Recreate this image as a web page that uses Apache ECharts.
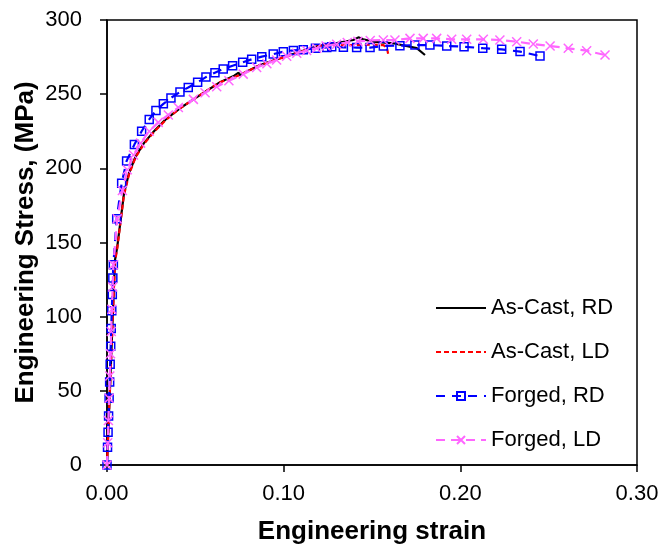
<!DOCTYPE html>
<html>
<head>
<meta charset="utf-8">
<script src="https://cdn.jsdelivr.net/npm/echarts@6/dist/echarts.min.js"></script>
<style>html,body{margin:0;padding:0;background:#fff}#c{width:665px;height:547px}</style>
</head>
<body>
<div id="c"></div>
<script>
// ---- data ----
var seriesNames = ['As-Cast, RD', 'As-Cast, LD', 'Forged, RD', 'Forged, LD'];
var xTicks = [0, 0.1, 0.2, 0.3];
var yTicks = [0, 50, 100, 150, 200, 250, 300];

var castRD_strain = [0, 0.0045, 0.0058, 0.0077, 0.0096, 0.0125, 0.0162, 0.0209, 0.0266, 0.0332, 0.0413, 0.0526, 0.064, 0.072, 0.0745, 0.075, 0.0866, 0.0979, 0.1092, 0.1206, 0.13, 0.1394, 0.1423, 0.145, 0.1507, 0.162, 0.1753, 0.18];
var castRD_stress = [0, 138, 147, 165, 183, 197, 208, 217, 225, 233, 240.5, 249.4, 258, 262.5, 264.5, 262.8, 269.7, 274.2, 278.6, 283, 284.5, 286.5, 288.3, 287, 285.4, 284.3, 281, 276.4];

var castLD_strain = [0, 0.0045, 0.0058, 0.0077, 0.0096, 0.0125, 0.0162, 0.0209, 0.0266, 0.0332, 0.0413, 0.0526, 0.064, 0.0743, 0.0866, 0.0979, 0.1092, 0.1206, 0.13, 0.14, 0.15, 0.1565, 0.1585, 0.1594];
var castLD_stress = [0, 137, 146, 164, 182, 196, 207.5, 216.5, 224.5, 232.5, 240.5, 249.4, 258, 262.5, 269.5, 274, 278.4, 282.5, 283, 283, 283.5, 283, 281, 275.5];

var forgRD_strain = [0, 0.0003, 0.0006, 0.0009, 0.0012, 0.0015, 0.0018, 0.0021, 0.0024, 0.0027, 0.003, 0.0033, 0.0036, 0.0055, 0.0083, 0.0111, 0.0155, 0.0196, 0.0239, 0.0277, 0.0319, 0.0362, 0.0413, 0.046, 0.0513, 0.056, 0.0611, 0.0658, 0.0711, 0.0768, 0.0819, 0.0876, 0.0941, 0.0998, 0.1055, 0.1111, 0.118, 0.1244, 0.1272, 0.1338, 0.1413, 0.1489, 0.1564, 0.1658, 0.1743, 0.1828, 0.1923, 0.2021, 0.2127, 0.2234, 0.2338, 0.2451];
var forgRD_stress = [0, 12, 22, 33, 45, 56, 68, 80, 92, 104, 115, 126, 135, 166, 190, 205, 216, 225, 233, 239, 243.5, 247.5, 251.5, 254.5, 258, 261.5, 264.5, 267, 269.2, 271.5, 273.5, 275.3, 277, 278.6, 279.5, 280, 281, 281.5, 282, 281.6, 281.4, 281.4, 282.5, 282.7, 283.1, 283.1, 282.5, 282, 281, 280.2, 278.7, 275.7];

var forgLD_strain = [0, 0.0004, 0.0008, 0.0012, 0.0016, 0.002, 0.0024, 0.0028, 0.0032, 0.0036, 0.0058, 0.0087, 0.0115, 0.015, 0.019, 0.0239, 0.029, 0.0347, 0.0404, 0.0489, 0.0555, 0.0621, 0.069, 0.0771, 0.0847, 0.0905, 0.096, 0.1017, 0.1074, 0.113, 0.1187, 0.124, 0.13, 0.136, 0.142, 0.149, 0.1564, 0.163, 0.1715, 0.179, 0.1866, 0.1951, 0.2036, 0.213, 0.2224, 0.2319, 0.2413, 0.2508, 0.2611, 0.2715, 0.2819];
var forgLD_stress = [0, 15, 30, 45, 60, 75, 90, 105, 120, 135, 166, 185, 199, 209, 217, 225, 231, 236, 241, 246.5, 251, 255, 259, 263.5, 268, 270.5, 273, 275.5, 277.6, 279.5, 281, 282.5, 283.7, 284.8, 285.6, 286.2, 286.5, 286.5, 287.6, 287.6, 287.6, 287, 287, 287, 286.5, 285.4, 283.8, 282.5, 280.9, 279.3, 276.4];

function pairs(xs, ys) { return xs.map(function (x, i) { return [x, ys[i]]; }); }

var FONT = '"Liberation Sans", Arial, sans-serif';
var chart = echarts.init(document.getElementById('c'), null, { renderer: 'canvas' });
chart.setOption({
  animation: false,
  backgroundColor: '#fff',
  grid: { left: 107, top: 20, right: 28, bottom: 82, containLabel: false, outerBoundsMode: 'none', show: true, borderColor: '#000', borderWidth: 1.5, backgroundColor: 'transparent' },
  legend: {
    orient: 'vertical', left: 435, top: 297, padding: 0,
    itemWidth: 50, itemHeight: 10, itemGap: 22,
    data: [
      { name: seriesNames[0], itemStyle: { opacity: 0 } },
      { name: seriesNames[1], itemStyle: { opacity: 0 } },
      { name: seriesNames[2] },
      { name: seriesNames[3] }
    ],
    textStyle: { fontFamily: FONT, fontSize: 22, color: '#000', lineHeight: 22, padding: [0, 0, 0, 0] }
  },
  xAxis: {
    type: 'value', min: xTicks[0], max: xTicks[xTicks.length - 1], interval: 0.1,
    name: 'Engineering strain', nameLocation: 'middle', nameGap: 54, nameMoveOverlap: false,
    nameTextStyle: { fontFamily: FONT, fontSize: 26, fontWeight: 'bold', color: '#000' },
    axisLine: { lineStyle: { color: '#000', width: 1.5 } },
    axisTick: { show: true, inside: false, length: 7, lineStyle: { color: '#000', width: 1.5 } },
    axisLabel: { margin: 18, fontFamily: FONT, fontSize: 22, color: '#000', formatter: function (v) { return v.toFixed(2); } },
    splitLine: { show: false }
  },
  yAxis: {
    type: 'value', min: yTicks[0], max: yTicks[yTicks.length - 1], interval: 50,
    name: 'Engineering Stress, (MPa)', nameLocation: 'middle', nameGap: 68, nameMoveOverlap: false,
    nameTextStyle: { fontFamily: FONT, fontSize: 26, fontWeight: 'bold', color: '#000' },
    axisLine: { show: true, lineStyle: { color: '#000', width: 1.5 } },
    axisTick: { show: true, inside: false, length: 7, lineStyle: { color: '#000', width: 1.5 } },
    axisLabel: { margin: 25, fontFamily: FONT, fontSize: 22, color: '#000' },
    splitLine: { show: false }
  },
  series: [
    {
      name: seriesNames[0], type: 'line', data: pairs(castRD_strain, castRD_stress),
      symbol: 'none', smooth: false, z: 3,
      lineStyle: { color: '#000', width: 2.2, type: 'solid' }, itemStyle: { color: '#000' }
    },
    {
      name: seriesNames[1], type: 'line', data: pairs(castLD_strain, castLD_stress),
      symbol: 'none', z: 4,
      lineStyle: { color: '#ff0000', width: 2.2, type: [5, 3] }, itemStyle: { color: '#ff0000' }
    },
    {
      name: seriesNames[2], type: 'line', data: pairs(forgRD_strain, forgRD_stress),
      symbol: 'rect', symbolSize: 8, showAllSymbol: true, z: 5,
      lineStyle: { color: '#0000ff', width: 2.2, type: [9, 7] },
      itemStyle: { color: 'rgba(255,255,255,0)', borderColor: '#0000ff', borderWidth: 1.5 }
    },
    {
      name: seriesNames[3], type: 'line', data: pairs(forgLD_strain, forgLD_stress),
      symbol: 'path://M0,0L10,10M10,0L0,10', symbolSize: 9, showAllSymbol: true, z: 6,
      lineStyle: { color: '#ff66ff', width: 2.2, type: [9, 6] },
      itemStyle: { color: 'rgba(255,255,255,0)', borderColor: '#ff66ff', borderWidth: 1.5 }
    }
  ]
});
</script>
</body>
</html>
